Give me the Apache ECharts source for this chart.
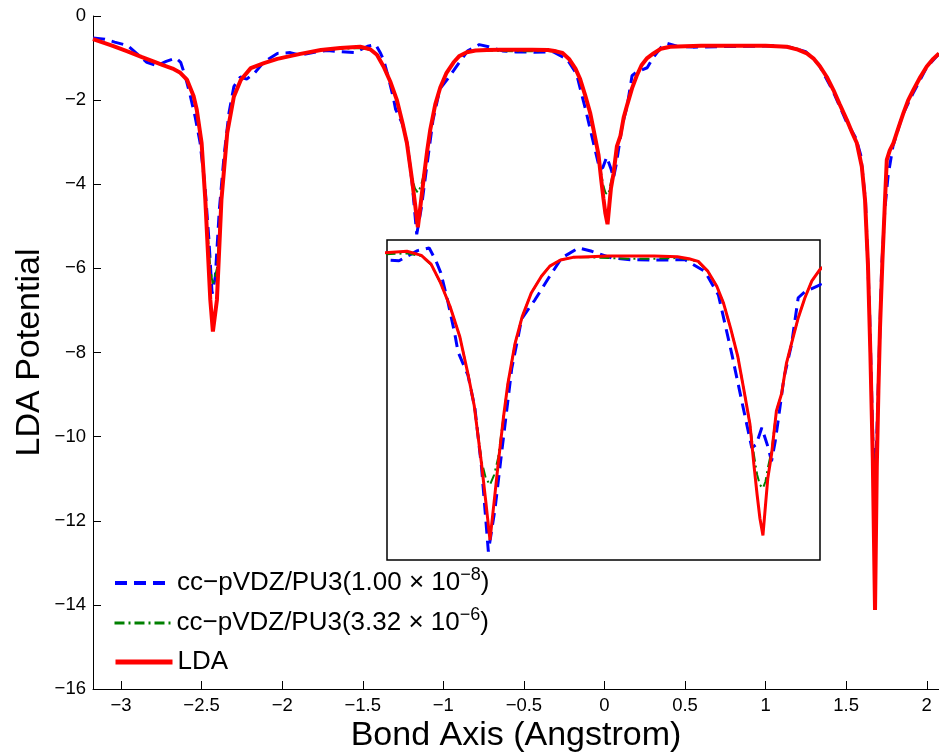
<!DOCTYPE html>
<html>
<head>
<meta charset="utf-8">
<script src="https://cdn.jsdelivr.net/npm/echarts@6/dist/echarts.min.js"></script>
<style>html,body{margin:0;padding:0;background:#fff}#c{width:939px;height:752px}</style>
</head>
<body>
<div id="c"></div>
<script>
// ---- data ----
const seriesNames = ['cc−pVDZ/PU3(1.00 × 10−8)', 'cc−pVDZ/PU3(3.32 × 10−6)', 'LDA'];
const xTicks = [-3, -2.5, -2, -1.5, -1, -0.5, 0, 0.5, 1, 1.5, 2];
const yTicks = [0, -2, -4, -6, -8, -10, -12, -14, -16];

// shared x grid for LDA and the 3.32e-6 curve
const xs = [
  -3.174, -3.06, -2.96, -2.87, -2.80, -2.74, -2.68, -2.632, -2.59, -2.55,
  -2.53, -2.50, -2.477, -2.446, -2.43, -2.405, -2.377, -2.341, -2.30, -2.257,
  -2.195, -2.113, -2.03, -1.887, -1.76, -1.64, -1.516, -1.454, -1.412, -1.371,
  -1.33, -1.288, -1.253, -1.226, -1.194, -1.176, -1.158, -1.14, -1.123, -1.10,
  -1.081, -1.05, -1.019, -0.98, -0.936, -0.90, -0.854, -0.80, -0.73, -0.65,
  -0.55, -0.45, -0.35, -0.30, -0.26, -0.22, -0.18, -0.151, -0.12, -0.089,
  -0.06, -0.037, -0.02, -0.006, 0.006, 0.019, 0.03, 0.04, 0.056, 0.077,
  0.099, 0.12, 0.142, 0.171, 0.20, 0.23, 0.265, 0.304, 0.35, 0.408,
  0.5, 0.6, 0.7, 0.8, 0.9, 1.0, 1.131, 1.2, 1.256, 1.30,
  1.338, 1.38, 1.421, 1.46, 1.504, 1.54, 1.566, 1.597, 1.617, 1.635,
  1.65, 1.665, 1.679, 1.69, 1.70, 1.71, 1.725, 1.741, 1.752, 1.77,
  1.793, 1.825, 1.855, 1.885, 1.917, 1.96, 2.0, 2.04, 2.076
];
const ldaY = [
  -0.55, -0.70, -0.84, -0.98, -1.08, -1.17, -1.25, -1.35, -1.52, -1.90,
  -2.23, -3.02, -4.37, -6.75, -7.5, -6.75, -4.37, -2.78, -1.92, -1.52,
  -1.24, -1.12, -1.02, -0.90, -0.81, -0.76, -0.73, -0.79, -0.92, -1.2,
  -1.55, -2.0, -2.55, -3.02, -3.90, -4.45, -5.02, -4.45, -3.90, -3.2,
  -2.7, -2.1, -1.7, -1.35, -1.1, -0.95, -0.86, -0.82, -0.81, -0.80,
  -0.80, -0.80, -0.81, -0.84, -0.88, -1.02, -1.25, -1.50, -1.88, -2.3,
  -2.85, -3.3, -3.9, -4.35, -4.7, -4.95, -4.5, -4.1, -3.75, -3.1,
  -2.85, -2.4, -2.1, -1.72, -1.42, -1.17, -1.0, -0.89, -0.78, -0.73,
  -0.72, -0.71, -0.71, -0.71, -0.71, -0.71, -0.73, -0.80, -0.89, -1.02,
  -1.2, -1.45, -1.76, -2.1, -2.47, -2.8, -3.02, -3.58, -4.37, -5.9,
  -8.0, -10.5, -14.12, -10.7, -8.9, -7.4, -5.8, -4.37, -3.42, -3.2,
  -3.02, -2.65, -2.31, -2.0, -1.76, -1.45, -1.2, -1.02, -0.89
];
const pu3bY = [
  -0.55, -0.70, -0.84, -0.98, -1.08, -1.17, -1.25, -1.35, -1.52, -1.90,
  -2.23, -3.02, -4.37, -6.0, -6.4, -6.0, -4.37, -2.78, -1.92, -1.52,
  -1.24, -1.12, -1.02, -0.90, -0.81, -0.78, -0.76, -0.80, -0.93, -1.2,
  -1.55, -2.0, -2.55, -3.02, -3.85, -4.1, -4.2, -4.05, -3.8, -3.2,
  -2.7, -2.1, -1.7, -1.35, -1.1, -0.95, -0.86, -0.82, -0.82, -0.83,
  -0.84, -0.84, -0.83, -0.85, -0.89, -1.02, -1.25, -1.50, -1.88, -2.3,
  -2.85, -3.3, -3.75, -4.05, -4.2, -4.25, -4.15, -3.95, -3.7, -3.1,
  -2.85, -2.4, -2.1, -1.72, -1.42, -1.17, -1.0, -0.89, -0.78, -0.73,
  -0.72, -0.71, -0.71, -0.71, -0.71, -0.71, -0.72, -0.78, -0.88, -1.02,
  -1.2, -1.45, -1.76, -2.1, -2.47, -2.8, -3.02, -3.58, -4.37, -5.9,
  -8.0, -10.2, -10.8, -10.3, -8.9, -7.4, -5.8, -4.37, -3.42, -3.2,
  -3.02, -2.65, -2.31, -2.0, -1.76, -1.45, -1.2, -1.02, -0.89
];
// the 1.00e-8 curve has its own sampling
const pu3aX = [
  -3.174, -3.10, -3.04, -2.96, -2.90, -2.84, -2.78, -2.72, -2.66, -2.63,
  -2.60, -2.57, -2.54, -2.51, -2.48, -2.455, -2.435, -2.415, -2.39, -2.36,
  -2.33, -2.30, -2.26, -2.22, -2.17, -2.113, -2.03, -1.95, -1.887, -1.80,
  -1.72, -1.64, -1.55, -1.47, -1.42, -1.39, -1.37, -1.34, -1.31, -1.296,
  -1.253, -1.223, -1.194, -1.165, -1.136, -1.107, -1.064, -1.021, -0.964, -0.906,
  -0.849, -0.777, -0.719, -0.633, -0.55, -0.45, -0.317, -0.231, -0.173, -0.115,
  -0.072, -0.044, -0.029, -0.01, 0.014, 0.042, 0.056, 0.072, 0.084, 0.11,
  0.142, 0.171, 0.20, 0.265, 0.30, 0.35, 0.387, 0.45, 0.55, 0.7,
  0.9, 1.05, 1.15, 1.25, 1.33, 1.42, 1.50, 1.56, 1.59, 1.62,
  1.645, 1.665, 1.678, 1.69, 1.705, 1.72, 1.74, 1.76, 1.79, 1.85,
  1.92, 2.0, 2.076
];
const pu3aY = [
  -0.52, -0.55, -0.62, -0.70, -0.90, -1.10, -1.18, -1.08, -1.00, -1.10,
  -1.45, -1.90, -2.4, -3.0, -4.0, -5.3, -6.6, -6.2, -4.6, -3.3,
  -2.3, -1.68, -1.45, -1.50, -1.35, -1.09, -0.89, -0.87, -0.93, -0.86,
  -0.82, -0.85, -0.87, -0.72, -0.68, -0.88, -1.05, -1.47, -1.95, -2.22,
  -2.57, -3.06, -3.95, -5.19, -4.55, -3.70, -2.47, -1.73, -1.45, -1.13,
  -0.83, -0.68, -0.73, -0.83, -0.855, -0.86, -0.855, -1.03, -1.38, -2.26,
  -2.96, -3.41, -3.65, -3.6, -3.35, -3.65, -3.85, -3.55, -3.26, -2.6,
  -2.12, -1.42, -1.33, -1.23, -1.0, -0.75, -0.65, -0.72, -0.74, -0.73,
  -0.72, -0.71, -0.74, -0.85, -1.15, -1.8, -2.5, -2.9, -3.3, -4.4,
  -7.0, -10.0, -11.0, -10.0, -8.0, -6.0, -4.6, -3.8, -3.1, -2.35,
  -1.8, -1.22, -0.9
];

// ---- chart ----
const FONT = '"Liberation Sans", Arial, Helvetica, sans-serif';
const minus = v => String(v).replace('-', '\u2212');
const pair = (xArr, yArr) => xArr.map((x, i) => [x, yArr[i]]);

const dataA = pair(pu3aX, pu3aY);
const dataB = pair(xs, pu3bY);
const dataL = pair(xs, ldaY);

function mkSeries(big) {
  const axis = big ? 0 : 1;
  return [
    { name: seriesNames[0], type: 'line', data: dataA, xAxisIndex: axis, yAxisIndex: axis,
      showSymbol: false, symbol: 'none', clip: true, animation: false, z: 2,
      lineStyle: { color: '#0000ff', width: 3, type: [12, 7] }, itemStyle: { color: '#0000ff' } },
    { name: seriesNames[1], type: 'line', data: dataB, xAxisIndex: axis, yAxisIndex: axis,
      showSymbol: false, symbol: 'none', clip: true, animation: false, z: 3,
      lineStyle: { color: '#008000', width: 2, type: [10, 4, 2, 4] }, itemStyle: { color: '#008000' } },
    { name: seriesNames[2], type: 'line', data: dataL, xAxisIndex: axis, yAxisIndex: axis,
      showSymbol: false, symbol: 'none', clip: true, animation: false, z: 4,
      lineStyle: { color: '#ff0000', width: big ? 4 : 3 }, itemStyle: { color: '#ff0000' } }
  ];
}

const richText = {
  a: { fontSize: 26, fontFamily: FONT, color: '#000', lineHeight: 34 },
  s: { fontSize: 18, fontFamily: FONT, color: '#000', lineHeight: 16, verticalAlign: 'top' }
};
function legendFmt(name) {
  if (name === seriesNames[0]) return '{a|cc\u2212pVDZ/PU3(1.00 \u00d7 10}{s|\u22128}{a|)}';
  if (name === seriesNames[1]) return '{a|cc\u2212pVDZ/PU3(3.32 \u00d7 10}{s|\u22126}{a|)}';
  return '{a|LDA}';
}
const legendTops = [561, 601, 640];
const legendLineW = [4, 3, 5];
const legends = seriesNames.map((n, i) => ({
  orient: 'vertical', left: 108, top: legendTops[i],
  data: [n],
  itemWidth: 57, itemHeight: 14, itemGap: 0,
  formatter: legendFmt,
  itemStyle: { opacity: 0 },
  lineStyle: { width: legendLineW[i] },
  textStyle: { fontSize: 26, fontFamily: FONT, color: '#000', lineHeight: 34, rich: richText },
  selectedMode: false
}));

const chart = echarts.init(document.getElementById('c'), null, { renderer: 'canvas' });
chart.setOption({
  backgroundColor: '#fff',
  animation: false,
  grid: [
    { left: 93, top: 16, right: 0, bottom: 63, show: false, outerBoundsMode: 'none', containLabel: false },
    { left: 387, top: 240, width: 433, height: 320, show: true, backgroundColor: '#fff',
      borderColor: '#000', borderWidth: 1.5, outerBoundsMode: 'none', containLabel: false, z: 1 }
  ],
  xAxis: [
    { type: 'value', gridIndex: 0, min: -3.174, max: 2.076,
      name: 'Bond Axis (Angstrom)', nameLocation: 'middle', nameGap: 30, nameMoveOverlap: false,
      nameTextStyle: { fontSize: 34, fontFamily: FONT, color: '#000' },
      axisLine: { show: true, onZero: false, lineStyle: { color: '#000', width: 1 } },
      axisTick: { show: true, inside: true, length: 8, customValues: xTicks, lineStyle: { color: '#000' } },
      axisLabel: { show: true, customValues: xTicks, formatter: minus, margin: 7,
        fontSize: 18.5, fontFamily: FONT, color: '#000', showMinLabel: true, showMaxLabel: true },
      splitLine: { show: false } },
    { type: 'value', gridIndex: 1, min: -1.602, max: 0.265, show: false,
      axisLine: { show: false }, axisTick: { show: false }, axisLabel: { show: false }, splitLine: { show: false } }
  ],
  yAxis: [
    { type: 'value', gridIndex: 0, min: -16, max: 0, interval: 2,
      name: 'LDA Potential', nameLocation: 'middle', nameGap: 46, nameMoveOverlap: false,
      nameTextStyle: { fontSize: 34, fontFamily: FONT, color: '#000' },
      axisLine: { show: true, onZero: false, lineStyle: { color: '#000', width: 1 } },
      axisTick: { show: true, inside: true, length: 8, lineStyle: { color: '#000' } },
      axisLabel: { show: true, formatter: minus, margin: 7,
        fontSize: 18.5, fontFamily: FONT, color: '#000' },
      splitLine: { show: false } },
    { type: 'value', gridIndex: 1, min: -5.316, max: -0.562, show: false,
      axisLine: { show: false }, axisTick: { show: false }, axisLabel: { show: false }, splitLine: { show: false } }
  ],
  legend: legends,
  series: [].concat(mkSeries(true), mkSeries(false))
});
</script>
</body>
</html>
